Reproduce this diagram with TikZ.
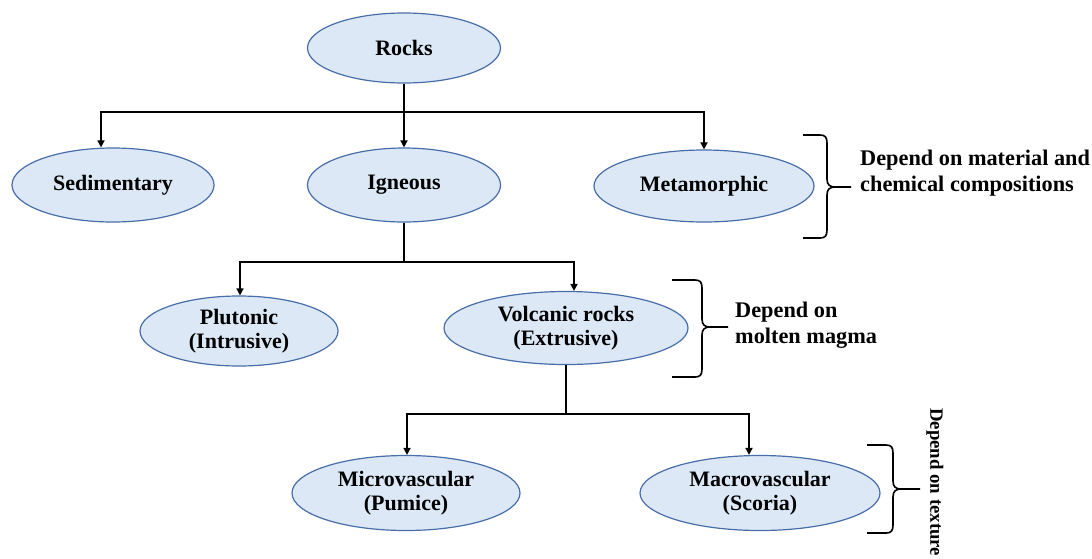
\documentclass[tikz,border=0pt]{standalone}
\usepackage{fontspec}
\setmainfont{Liberation Serif}
\usetikzlibrary{shapes.geometric,arrows.meta}
\definecolor{efill}{RGB}{220,232,246}
\definecolor{edraw}{RGB}{72,110,170}
\tikzset{
  rock/.style={ellipse, draw=edraw, fill=efill, line width=1.2pt, inner sep=1pt,
    align=center, font=\fontsize{22}{24}\selectfont\bfseries},
  conn/.style={line width=1.6pt, black},
  arr/.style={conn, -{Triangle[length=7pt,width=7pt]}},
  bracestyle/.style={line width=1.6pt, black},
  side/.style={align=left, inner sep=0pt, font=\fontsize{22.3}{25.5}\selectfont\bfseries}
}
% #1 left x, #2 vertical x, #3 tip x, #4 top y, #5 mid y, #6 bottom y
\newcommand\drawbrace[6]{%
  \draw[bracestyle] (#1,#4) -- ({#2-7},#4) .. controls ({#2-2},#4) and (#2,{#4+2}) .. (#2,{#4+8})
    -- (#2,{#5-8}) .. controls (#2,{#5-2}) and ({#2+3},#5) .. ({#2+8},#5) -- (#3,#5);
  \draw[bracestyle] ({#2+8},#5) .. controls ({#2+3},#5) and (#2,{#5+2}) .. (#2,{#5+8})
    -- (#2,{#6-8}) .. controls (#2,{#6-2}) and ({#2-2},#6) .. ({#2-7},#6) -- (#1,#6);
}
\begin{document}
\begin{tikzpicture}[x=1pt,y=-1pt]
\useasboundingbox[fill=white] (0,0) rectangle (1092,558);

\node[rock, minimum width=193pt, minimum height=70pt] (rocks) at (404,48) {Rocks};
\node[rock, minimum width=202pt, minimum height=74pt] (sed) at (113,185) {Sedimentary};
\node[rock, minimum width=193pt, minimum height=74pt] (ign) at (404,185) {Igneous};
\node[rock, minimum width=220pt, minimum height=72pt] (met) at (704,186) {Metamorphic};
\node[rock, minimum width=198pt, minimum height=70pt] (plu) at (239,331) {Plutonic\\(Intrusive)};
\node[rock, minimum width=244pt, minimum height=73pt] (vol) at (566,328) {Volcanic rocks\\(Extrusive)};
\node[rock, minimum width=228pt, minimum height=75pt] (mic) at (406,493) {Microvascular\\(Pumice)};
\node[rock, minimum width=240pt, minimum height=75pt] (mac) at (760,493) {Macrovascular\\(Scoria)};

\coordinate (j1) at (rocks.south |- 0,112);
\coordinate (j2) at (ign.south |- 0,262);
\coordinate (j3) at (vol.south |- 0,414);

\draw[conn] (rocks.south) -- (j1);
\draw[arr] (j1) -| ([xshift=-12pt]sed.north);
\draw[arr] (j1) -- (ign.north);
\draw[arr] (j1) -| (met.north);

\draw[conn] (ign.south) -- (j2);
\draw[arr] (j2) -| ([xshift=1pt]plu.north);
\draw[arr] (j2) -| ([xshift=8pt]vol.north);

\draw[conn] (vol.south) -- (j3);
\draw[arr] (j3) -| ([xshift=1pt]mic.north);
\draw[arr] (j3) -| ([xshift=-11pt]mac.north);

\drawbrace{803}{827}{851}{135}{187}{238}
\drawbrace{672}{702}{728}{280}{327}{377}
\drawbrace{867}{893}{920}{445}{489}{533}

\node[side, anchor=west] (t1) at (860,173) {Depend on material and\\chemical compositions};
\node[side, anchor=west] (t2) at (735,325) {Depend on\\molten magma};
\node[side, anchor=west, rotate=-90, font=\fontsize{18.8}{22}\selectfont\bfseries] (t3) at (935,408) {Depend on texture};
\end{tikzpicture}
\end{document}
